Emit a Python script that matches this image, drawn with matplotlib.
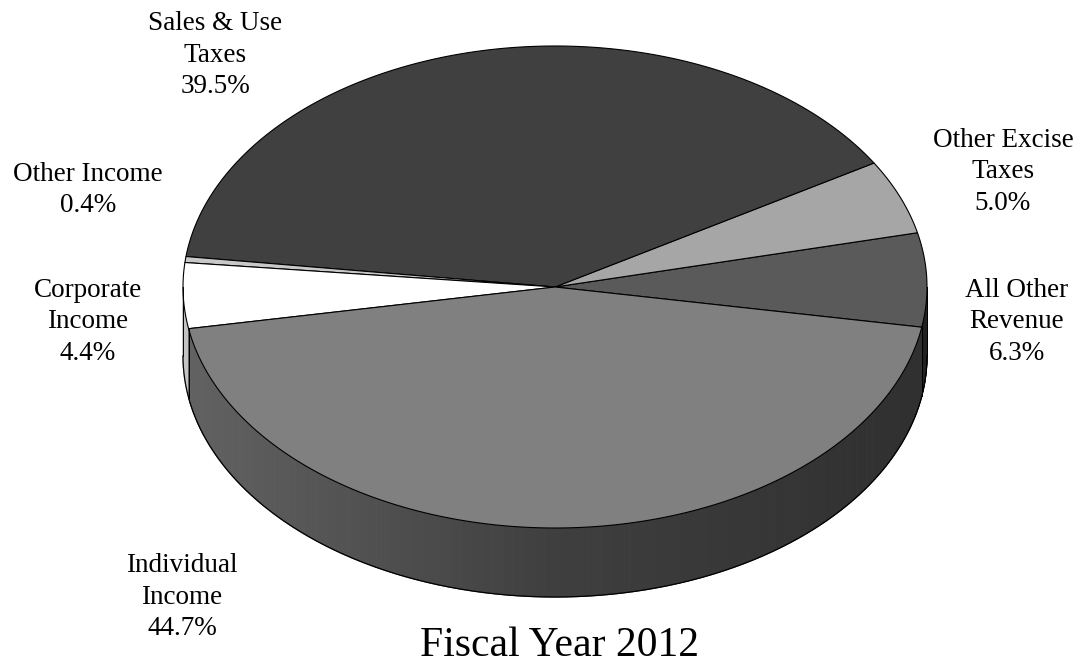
import numpy as np
import matplotlib
matplotlib.use("Agg")
import matplotlib.pyplot as plt
from matplotlib.patches import Polygon

# data
categories = ["All Other\nRevenue", "Other Excise\nTaxes", "Sales & Use\nTaxes",
              "Other Income", "Corporate\nIncome", "Individual\nIncome"]
shares = [6.3, 5.0, 39.5, 0.4, 4.4, 44.7]
title = "Fiscal Year 2012"

# style / layout
top_colors = ["#5a5a5a", "#a6a6a6", "#404040", "#c8c8c8", "#ffffff", "#808080"]
label_pos = [(1017, 322), (1003, 172), (215, 55), (88, 190), (88, 322), (182, 597)]
cx, cy, rx, ry, depth = 555, 287, 372, 241, 69
start = -9.6

plt.rcParams['font.family'] = ['Liberation Serif', 'DejaVu Serif']

fig = plt.figure(figsize=(10.76, 6.64), dpi=100)
ax = fig.add_axes([0, 0, 1, 1])
ax.set_xlim(0, 1076)
ax.set_ylim(664, 0)
ax.axis('off')


def pt(t, dy=0):
    r = np.radians(t)
    return cx + rx * np.cos(r), cy - ry * np.sin(r) + dy


def wall_shade(x, base):
    # lighter on the left, darker on the right
    k = np.interp(x, [cx - rx, cx, cx + rx], [0.385, 0.245, 0.185])
    c = min(1.0, max(0.0, base * k / 0.5))
    return (c, c, c)


total = sum(shares)
angles = np.concatenate([[0], np.cumsum(shares)]) / total * 360 + start

# side walls (front half only)
for i in range(len(shares)):
    a0, a1 = angles[i], angles[i + 1]
    base = matplotlib.colors.to_rgb(top_colors[i])[0]
    for off in (0, 360, -360):
        lo = max(a0 + off, 180)
        hi = min(a1 + off, 360)
        if hi <= lo:
            continue
        ts = np.linspace(lo, hi, max(2, int((hi - lo) * 2)))
        for t0, t1 in zip(ts[:-1], ts[1:]):
            x0, y0 = pt(t0)
            x1, y1 = pt(t1)
            col = wall_shade((x0 + x1) / 2, base)
            ax.add_patch(Polygon([(x0, y0), (x1, y1), (x1, y1 + depth), (x0, y0 + depth)],
                                 closed=True, facecolor=col, edgecolor=col, lw=0.8))
        for t in (lo, hi):
            x, y = pt(t)
            ax.plot([x, x], [y, y + depth], color="black", lw=0.7)

# wall bottom outline
tb = np.linspace(180, 360, 400)
bx, by = pt(tb, depth)
ax.plot(bx, by, color="black", lw=0.9)

# top face slices
for i in range(len(shares)):
    ts = np.linspace(angles[i], angles[i + 1], max(3, int(shares[i] * 10)))
    xs, ys = pt(ts)
    verts = [(cx, cy)] + list(zip(xs, ys))
    ax.add_patch(Polygon(verts, closed=True, facecolor=top_colors[i],
                         edgecolor="black", lw=0.8, joinstyle="round"))

# labels
for name, val, (lx, ly) in zip(categories, shares, label_pos):
    ax.text(lx, ly, f"{name}\n{val:.1f}%", ha="center", va="center",
            fontsize=19.5, linespacing=1.35)

ax.text(559, 656, title, ha="center", va="baseline", fontsize=30)

fig.savefig("out.png", dpi=100)
